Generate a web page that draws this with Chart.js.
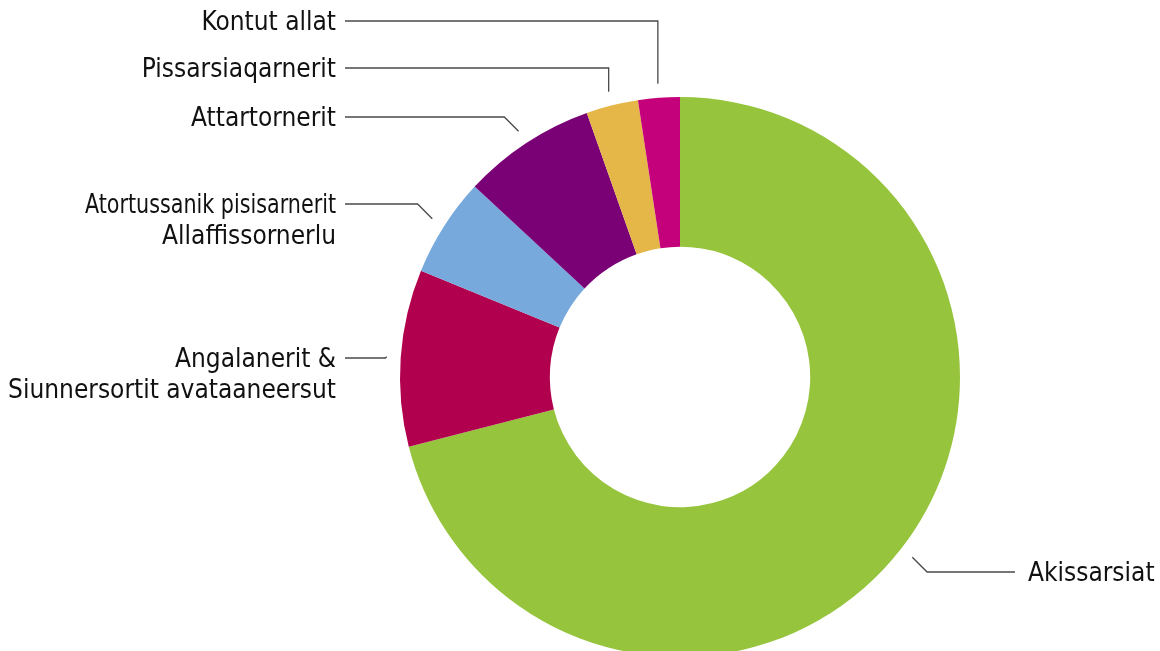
<!DOCTYPE html>
<html>
<head>
<meta charset="utf-8">
<script src="https://cdn.jsdelivr.net/npm/chart.js@4"></script>
<style>
  html, body { margin: 0; padding: 0; background: #fff; overflow: hidden; }
  #wrap { width: 1160px; height: 660px; }
</style>
</head>
<body>
<div id="wrap"><canvas id="pie" width="1160" height="660"></canvas></div>
<script>
// data (share of total, %)
const categories = [
  "Akissarsiat",
  "Angalanerit &\nSiunnersortit avataaneersut",
  "Atortussanik pisisarnerit\nAllaffissornerlu",
  "Attartornerit",
  "Pissarsiaqarnerit",
  "Kontut allat"
];
const values = [71.0, 10.2, 5.7, 7.7, 3.0, 2.4];
const colors = ["#96c43d", "#b1004e", "#77a9dc", "#7a0076", "#e4b748", "#c4007a"];

// label placement (y of the leader line, how the elbow goes)
const labelY = [572, 358, 204, 117, 68, 21];
const elbow = ["diag", "diag", "diag", "diag", "vert", "vert"];

const FONT = "26px 'Liberation Sans Narrow', 'DejaVu Sans Condensed', sans-serif";

const leaderLabels = {
  id: "leaderLabels",
  afterDraw(chart) {
    const ctx = chart.ctx;
    const arcs = chart.getDatasetMeta(0).data;
    ctx.save();
    ctx.strokeStyle = "#4a4a4a";
    ctx.lineWidth = 1.3;
    ctx.fillStyle = "#111";
    ctx.font = FONT;
    arcs.forEach((arc, i) => {
      const p = arc.getProps(["x", "y", "startAngle", "endAngle", "outerRadius"], true);
      const mid = (p.startAngle + p.endAngle) / 2;
      const r = p.outerRadius + 14;
      const ax = p.x + Math.cos(mid) * r;
      const ay = p.y + Math.sin(mid) * r;
      const ly = labelY[i];
      const right = Math.cos(mid) > 0;
      let ex = ax;
      if (elbow[i] == "diag") ex = right ? ax + Math.abs(ly - ay) : ax - Math.abs(ly - ay);
      const endX = right ? 1015 : 345;
      ctx.beginPath();
      ctx.moveTo(ax, ay);
      ctx.lineTo(ex, ly);
      ctx.lineTo(endX, ly);
      ctx.stroke();

      const lines = categories[i].split("\n");
      ctx.textAlign = right ? "left" : "right";
      ctx.textBaseline = "alphabetic";
      const tx = right ? 1028 : 336;
      lines.forEach((t, k) => {
        // the long one is set tighter in the original
        if (t.length > 24 && i == 2) ctx.fillText(t, tx, ly + 9 + k * 31, 251);
        else ctx.fillText(t, tx, ly + 9 + k * 31);
      });
    });
    ctx.restore();
  }
};

const chart = new Chart(document.getElementById("pie"), {
  type: "doughnut",
  data: {
    labels: categories,
    datasets: [{ data: values, backgroundColor: colors, borderWidth: 0, hoverOffset: 0 }]
  },
  options: {
    responsive: false,
    animation: false,
    events: [],
    cutout: "46.5%",
    layout: { padding: { left: 400, right: 200, top: 97, bottom: 3 } },
    plugins: { legend: { display: false }, tooltip: { enabled: false } }
  },
  plugins: [leaderLabels]
});
</script>
</body>
</html>
